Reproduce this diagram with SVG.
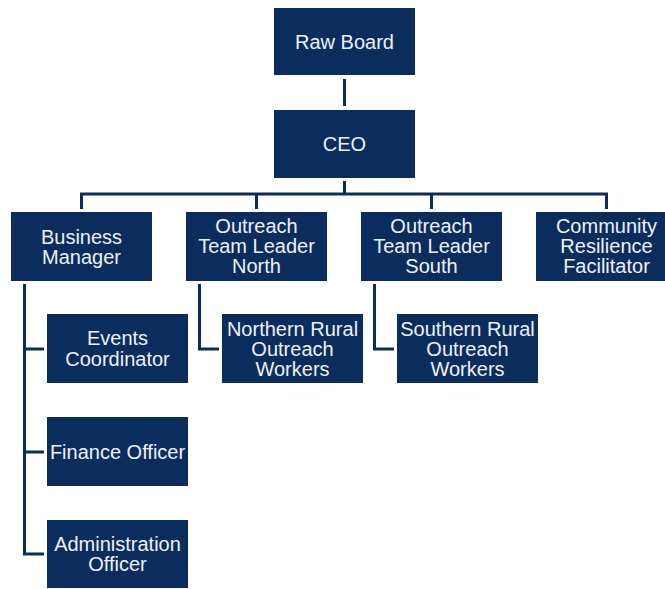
<svg xmlns="http://www.w3.org/2000/svg" width="665" height="589" viewBox="0 0 665 589">
<style>
.box{fill:#0a2d5e;}
.t{font-family:"Liberation Sans",Arial,sans-serif;font-size:20px;fill:#eef1f6;text-anchor:middle;}
.c{fill:none;stroke:#0a2d5e;stroke-width:3;stroke-linejoin:miter;}
</style>
<rect width="665" height="589" fill="#ffffff"/>
<g id="connectors">
<path class="c" d="M344.5 79 V106"/>
<path class="c" d="M344.5 181 V194"/>
<path class="c" d="M81.5 209 V194 H606.5 V209"/>
<path class="c" d="M256.5 194 V209"/>
<path class="c" d="M431.5 194 V209"/>
<path class="c" d="M24.5 284 V554 H44"/>
<path class="c" d="M24.5 349 H44"/>
<path class="c" d="M24.5 452 H44"/>
<path class="c" d="M199.5 284 V349 H219"/>
<path class="c" d="M374.5 284 V349 H394"/>
</g>
<g id="raw-board"><rect class="box" x="274" y="8" width="141" height="67"/><text class="t" x="344.5" y="49">Raw Board</text></g>
<g id="ceo"><rect class="box" x="274" y="110" width="141" height="68"/><text class="t" x="344.5" y="151">CEO</text></g>
<g id="business-manager"><rect class="box" x="11" y="212" width="141" height="69"/><text class="t" x="81.5" y="244">Business</text><text class="t" x="81.5" y="264">Manager</text></g>
<g id="otl-north"><rect class="box" x="186" y="212" width="141" height="69"/><text class="t" x="256.5" y="233">Outreach</text><text class="t" x="256.5" y="253">Team Leader</text><text class="t" x="256.5" y="273">North</text></g>
<g id="otl-south"><rect class="box" x="361" y="212" width="141" height="69"/><text class="t" x="431.5" y="233">Outreach</text><text class="t" x="431.5" y="253">Team Leader</text><text class="t" x="431.5" y="273">South</text></g>
<g id="community"><rect class="box" x="536" y="212" width="141" height="69"/><text class="t" x="606.5" y="233">Community</text><text class="t" x="606.5" y="253">Resilience</text><text class="t" x="606.5" y="273">Facilitator</text></g>
<g id="events"><rect class="box" x="47" y="314" width="141" height="69"/><text class="t" x="117.5" y="345">Events</text><text class="t" x="117.5" y="366">Coordinator</text></g>
<g id="northern-rural"><rect class="box" x="222" y="314" width="141" height="69"/><text class="t" x="292.5" y="336">Northern Rural</text><text class="t" x="292.5" y="356">Outreach</text><text class="t" x="292.5" y="376">Workers</text></g>
<g id="southern-rural"><rect class="box" x="397" y="314" width="141" height="69"/><text class="t" x="467.5" y="336">Southern Rural</text><text class="t" x="467.5" y="356">Outreach</text><text class="t" x="467.5" y="376">Workers</text></g>
<g id="finance"><rect class="box" x="47" y="417" width="141" height="69"/><text class="t" x="117.5" y="459">Finance Officer</text></g>
<g id="admin"><rect class="box" x="47" y="520" width="141" height="68"/><text class="t" x="117.5" y="551">Administration</text><text class="t" x="117.5" y="571">Officer</text></g>
</svg>
